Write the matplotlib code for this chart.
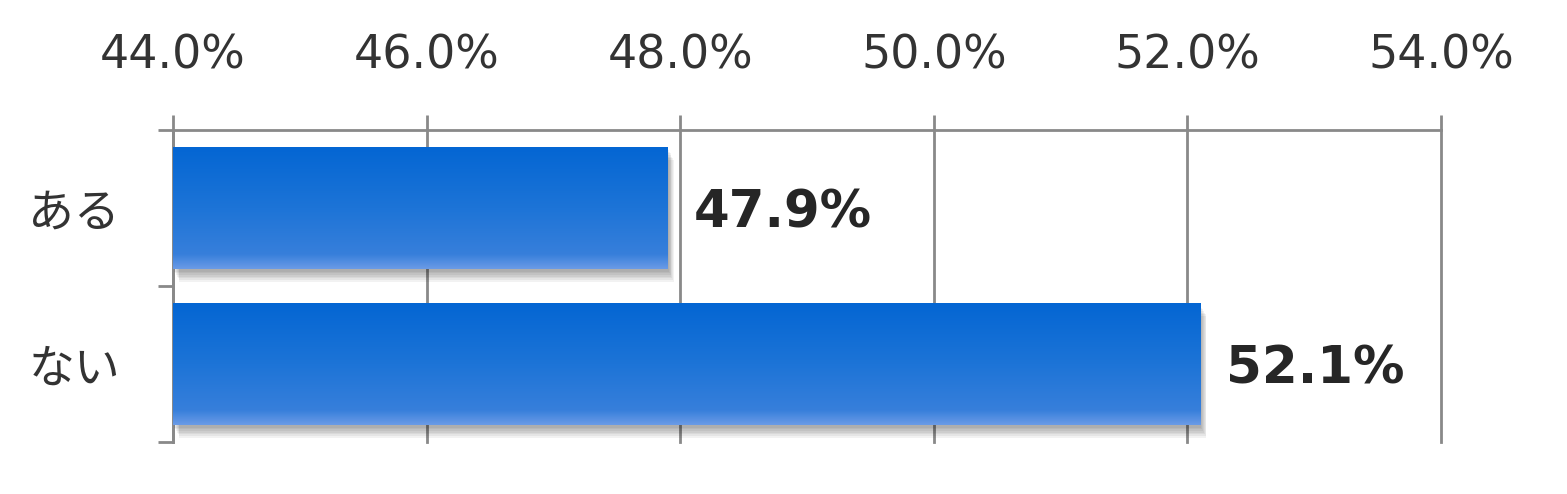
import numpy as np
import matplotlib.pyplot as plt
import matplotlib.patheffects as pe
from matplotlib.colors import LinearSegmentedColormap

# data
categories = ["ある", "ない"]
values = [47.9, 52.1]
value_labels = ["47.9%", "52.1%"]
x_ticks = [44, 46, 48, 50, 52, 54]
x_tick_labels = ["44.0%", "46.0%", "48.0%", "50.0%", "52.0%", "54.0%"]

plt.rcParams['font.family'] = ['DejaVu Sans', 'Noto Sans CJK JP']

fig = plt.figure(figsize=(15.67, 4.94), dpi=100)
W, H = 1567, 494
ax = fig.add_axes([173 / W, 1 - 442 / H, (1441 - 173) / W, (442 - 130) / H])

grid_color = "#898989"
text_color = "#333333"
bar_h = 0.78
lw = 2.0

# gradient for bars (top -> bottom)
grad_cmap = LinearSegmentedColormap.from_list(
    "bar_grad",
    [(0.0, "#0466d3"), (0.5, "#1d74d7"), (0.88, "#377fdb"), (1.0, "#6b9be6")])
grad = np.linspace(0, 1, 256).reshape(-1, 1)

# soft shadow made of stacked offset shadows
shadow = [pe.SimplePatchShadow(offset=(1 + 0.6 * i, -2 - 1.2 * i),
                               shadow_rgbFace="#000000", alpha=0.05)
          for i in range(7)]

ypos = np.arange(len(categories))
bars = ax.barh(ypos, [v - 44 for v in values], left=44, height=bar_h,
               color="#1d74d7", zorder=3,
               path_effects=shadow + [pe.Normal()])

for bar, y, v in zip(bars, ypos, values):
    im = ax.imshow(grad, cmap=grad_cmap, aspect="auto", zorder=4,
                   extent=[44, v, y + bar_h / 2, y - bar_h / 2])
    im.set_clip_path(bar)

for y, v, lab in zip(ypos, values, value_labels):
    ax.annotate(lab, xy=(v, y), xytext=(19, -4), textcoords="offset points",
                ha="left", va="center", fontsize=37, fontweight="bold",
                color="#262626", zorder=5)

ax.set_xlim(44, 54)
ax.set_ylim(1.5, -0.5)

# x axis on top
ax.xaxis.tick_top()
ax.set_xticks(x_ticks)
ax.set_xticklabels(x_tick_labels, fontsize=33, color=text_color)
ax.tick_params(axis="x", which="major", length=11, width=lw, color=grid_color, pad=26)
ax.grid(axis="x", color=grid_color, linewidth=lw, zorder=1)
for gl in ax.get_xgridlines():
    gl.set_clip_on(False)
ax.set_axisbelow(True)

# y axis: labels at centers, ticks at band edges
ax.set_yticks(ypos)
ax.set_yticklabels(categories, fontsize=33, color=text_color,
                   family=['Noto Sans CJK JP', 'DejaVu Sans'])
ax.set_yticks([-0.5, 0.5, 1.5], minor=True)
ax.tick_params(axis="y", which="major", length=0, pad=38)
ax.tick_params(axis="y", which="minor", length=11, width=lw, color=grid_color)

for side in ["right", "bottom"]:
    ax.spines[side].set_visible(False)
for side in ["top", "left"]:
    ax.spines[side].set_color(grid_color)
    ax.spines[side].set_linewidth(lw)

fig.savefig("out.png", dpi=100)
